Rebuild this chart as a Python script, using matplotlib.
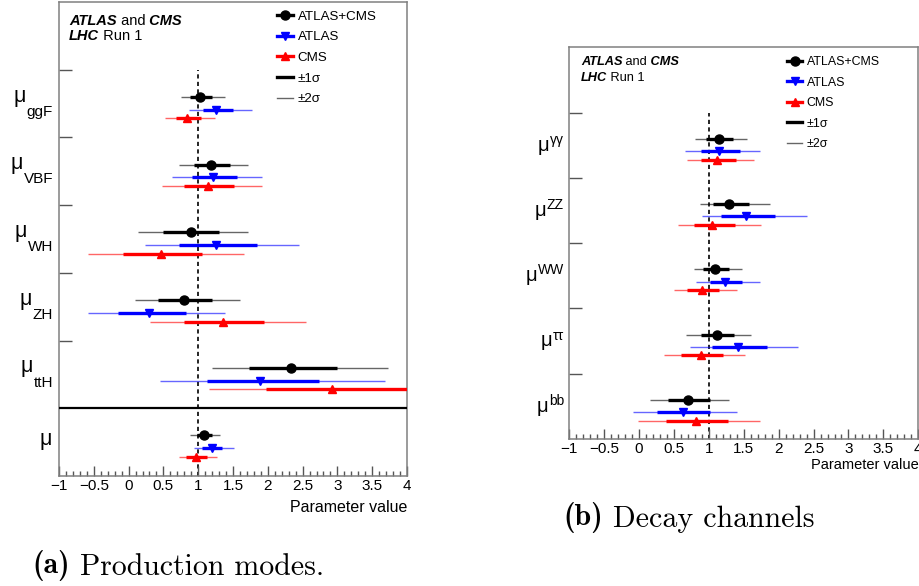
import numpy as np
import matplotlib.pyplot as plt
import matplotlib.transforms as mtransforms
from matplotlib.lines import Line2D
from matplotlib.ticker import MultipleLocator, FuncFormatter

plt.rcParams['font.family'] = 'Liberation Sans'

# ---- production modes (top to bottom), last row is the global mu ----
prod_tags = ['ggF', 'VBF', 'WH', 'ZH', 'ttH', '']

comb_prod = [1.03, 1.18, 0.89, 0.79, 2.33, 1.09]
comb_prod_lo1 = [0.88, 0.94, 0.50, 0.42, 1.73, 0.98]
comb_prod_hi1 = [1.20, 1.46, 1.30, 1.20, 3.00, 1.20]
comb_prod_lo2 = [0.75, 0.73, 0.14, 0.09, 1.20, 0.88]
comb_prod_hi2 = [1.385, 1.71, 1.71, 1.60, 3.72, 1.32]

atlas_prod = [1.26, 1.22, 1.26, 0.30, 1.89, 1.20]
atlas_prod_lo1 = [1.07, 0.91, 0.72, -0.15, 1.13, 1.06]
atlas_prod_hi1 = [1.50, 1.56, 1.84, 0.82, 2.73, 1.34]
atlas_prod_lo2 = [0.87, 0.63, 0.24, -0.59, 0.45, 0.94]
atlas_prod_hi2 = [1.77, 1.92, 2.45, 1.38, 3.68, 1.52]

cms_prod = [0.84, 1.14, 0.46, 1.35, 2.92, 0.97]
cms_prod_lo1 = [0.68, 0.79, -0.08, 0.80, 1.98, 0.83]
cms_prod_hi1 = [1.04, 1.52, 1.05, 1.95, 4.10, 1.12]
cms_prod_lo2 = [0.53, 0.48, -0.58, 0.31, 1.16, 0.72]
cms_prod_hi2 = [1.24, 1.91, 1.66, 2.55, 4.90, 1.27]

# ---- decay channels (top to bottom) ----
decay_tags = ['γγ', 'ZZ', 'WW', 'ττ', 'bb']

comb_decay = [1.14, 1.29, 1.09, 1.11, 0.70]
comb_decay_lo1 = [0.96, 1.06, 0.92, 0.88, 0.42]
comb_decay_hi1 = [1.35, 1.58, 1.29, 1.36, 1.01]
comb_decay_lo2 = [0.80, 0.87, 0.78, 0.67, 0.16]
comb_decay_hi2 = [1.55, 1.87, 1.47, 1.61, 1.29]

atlas_decay = [1.15, 1.53, 1.23, 1.42, 0.63]
atlas_decay_lo1 = [0.89, 1.17, 1.02, 1.05, 0.25]
atlas_decay_hi1 = [1.44, 1.95, 1.47, 1.83, 1.01]
atlas_decay_lo2 = [0.66, 0.90, 0.82, 0.73, -0.09]
atlas_decay_hi2 = [1.73, 2.40, 1.73, 2.27, 1.41]

cms_decay = [1.12, 1.04, 0.90, 0.89, 0.82]
cms_decay_lo1 = [0.89, 0.78, 0.68, 0.60, 0.38]
cms_decay_hi1 = [1.39, 1.37, 1.14, 1.20, 1.28]
cms_decay_lo2 = [0.68, 0.56, 0.50, 0.35, -0.01]
cms_decay_hi2 = [1.65, 1.74, 1.40, 1.52, 1.73]

# colour, marker, marker size, vertical offset inside a row
styles = [('black', 'o', 6.5, 0.60),
          ('blue', 'v', 6.0, 0.41),
          ('red', '^', 6.0, 0.28)]

frame_col = '#808080'


def draw_rows(ax, series):
    n = len(series[0][0])
    slot = n - 1 - np.arange(n)
    for (c, lo1, hi1, lo2, hi2), (col, mk, ms, off) in zip(series, styles):
        y = slot + off
        ax.hlines(y, lo2, hi2, color=col, lw=1.0, alpha=0.6, zorder=2)
        ax.hlines(y, lo1, hi1, color=col, lw=2.4, zorder=3)
        ax.plot(c, y, ls='none', marker=mk, ms=ms, color=col, zorder=4)


def style_axes(ax, n_slots, yticks, tick_fs):
    ax.set_xlim(-1, 4)
    ax.set_ylim(0, n_slots)
    for s in ax.spines.values():
        s.set_color(frame_col)
        s.set_linewidth(1.1)
    ax.xaxis.set_major_locator(MultipleLocator(0.5))
    ax.xaxis.set_minor_locator(MultipleLocator(0.1))
    ax.xaxis.set_major_formatter(FuncFormatter(lambda v, p: f'{v:g}'.replace('-', '\u2212')))
    ax.tick_params(axis='x', which='major', direction='in', length=7, width=1,
                   color='#555555', labelsize=tick_fs, pad=2.5)
    ax.tick_params(axis='x', which='minor', direction='in', length=3.5, width=1,
                   color='#555555')
    ax.set_yticks(yticks)
    ax.set_yticklabels([])
    ax.tick_params(axis='y', which='both', direction='in', length=9.5, width=1,
                   color='#555555')
    ax.tick_params(axis='y', which='minor', left=False)


def header(ax, x, y, dy, size):
    t = ax.text(x, y, 'ATLAS', transform=ax.transAxes, fontsize=size,
                fontweight='bold', fontstyle='italic', va='baseline')
    t = ax.annotate(' and', xy=(1, 0), xycoords=t, va='bottom', fontsize=size)
    ax.annotate(' CMS', xy=(1, 0), xycoords=t, va='bottom', fontsize=size,
                fontweight='bold', fontstyle='italic')
    t = ax.text(x, y - dy, 'LHC', transform=ax.transAxes, fontsize=size,
                fontweight='bold', fontstyle='italic', va='baseline')
    ax.annotate(' Run 1', xy=(1, 0), xycoords=t, va='bottom', fontsize=size)


def legend(ax, x, y, size, spacing):
    handles = [Line2D([], [], color='black', lw=2.4, marker='o', ms=6.5),
               Line2D([], [], color='blue', lw=2.4, marker='v', ms=6),
               Line2D([], [], color='red', lw=2.4, marker='^', ms=6),
               Line2D([], [], color='black', lw=2.4),
               Line2D([], [], color='black', lw=1.0, alpha=0.6)]
    labels = ['ATLAS+CMS', 'ATLAS', 'CMS', '±1σ', '±2σ']
    ax.legend(handles, labels, loc='upper left', bbox_to_anchor=(x, y),
              frameon=False, fontsize=size, numpoints=1, handlelength=1.2,
              handletextpad=0.35, labelspacing=spacing, borderpad=0,
              borderaxespad=0)


fig = plt.figure(figsize=(9.2, 5.86), dpi=100)

# ---------------- (a) production modes ----------------
ax1 = fig.add_axes([0.0641, 0.1877, 0.3783, 0.8089])
draw_rows(ax1, [(comb_prod, comb_prod_lo1, comb_prod_hi1, comb_prod_lo2, comb_prod_hi2),
                (atlas_prod, atlas_prod_lo1, atlas_prod_hi1, atlas_prod_lo2, atlas_prod_hi2),
                (cms_prod, cms_prod_lo1, cms_prod_hi1, cms_prod_lo2, cms_prod_hi2)])
style_axes(ax1, 7, [2, 3, 4, 5, 6], 11)
ax1.vlines(1, 0, 6, color='black', lw=1.2, linestyles=(0, (2.5, 2)), zorder=1)
ax1.axhline(1, color='black', lw=1.6, zorder=5)

tr1 = mtransforms.blended_transform_factory(ax1.transAxes, ax1.transData)
n1 = len(prod_tags)
for i, tag in enumerate(prod_tags):
    row = n1 - 1 - i
    if tag:
        sub = ax1.text(-0.0172, row + 0.32, tag, transform=tr1, ha='right',
                       va='baseline', fontsize=11)
        ax1.annotate('μ', xy=(0, 0), xycoords=sub, xytext=(-0.3, 12.4),
                     textcoords='offset points', ha='right', va='baseline',
                     fontsize=15.5)
    else:
        ax1.text(-0.02, row + 0.46, 'μ', transform=tr1, ha='right',
                 va='baseline', fontsize=15.5)

header(ax1, 0.029, 0.951, 0.031, 10.5)
legend(ax1, 0.626, 0.982, 9.6, 0.62)
ax1.text(1.0, -0.0654, 'Parameter value', transform=ax1.transAxes,
         ha='right', va='center', fontsize=11.5)

# ---------------- (b) decay channels ----------------
ax2 = fig.add_axes([0.6188, 0.2509, 0.3793, 0.6684])
draw_rows(ax2, [(comb_decay, comb_decay_lo1, comb_decay_hi1, comb_decay_lo2, comb_decay_hi2),
                (atlas_decay, atlas_decay_lo1, atlas_decay_hi1, atlas_decay_lo2, atlas_decay_hi2),
                (cms_decay, cms_decay_lo1, cms_decay_hi1, cms_decay_lo2, cms_decay_hi2)])
style_axes(ax2, 6, [1, 2, 3, 4, 5], 11)
ax2.vlines(1, 0, 5, color='black', lw=1.2, linestyles=(0, (2.5, 2)), zorder=1)

tr2 = mtransforms.blended_transform_factory(ax2.transAxes, ax2.transData)
n2 = len(decay_tags)
for i, tag in enumerate(decay_tags):
    row = n2 - 1 - i
    sup = ax2.text(-0.0152, row + 0.52, tag, transform=tr2, ha='right',
                   va='baseline', fontsize=10)
    ax2.annotate('μ', xy=(0, 0), xycoords=sup, xytext=(-0.3, -2.6),
                 textcoords='offset points', ha='right', va='baseline',
                 fontsize=14.5)

header(ax2, 0.033, 0.954, 0.039, 9.2)
legend(ax2, 0.625, 0.977, 8.9, 0.68)
ax2.text(1.0, -0.0664, 'Parameter value', transform=ax2.transAxes,
         ha='right', va='center', fontsize=10.5)

# ---------------- captions ----------------
t = fig.text(0.0348, 0.0222, '(a)', family='cmb10', fontsize=21.5, va='baseline')
ax1.annotate(' Production modes.', xy=(1, 0), xycoords=t, va='bottom',
             family='cmr10', fontsize=21.5, annotation_clip=False)
t = fig.text(0.612, 0.104, '(b)', family='cmb10', fontsize=21.5, va='baseline')
ax2.annotate(' Decay channels', xy=(1, 0), xycoords=t, va='bottom',
             family='cmr10', fontsize=21.5, annotation_clip=False)

fig.savefig('out.png', dpi=100)
